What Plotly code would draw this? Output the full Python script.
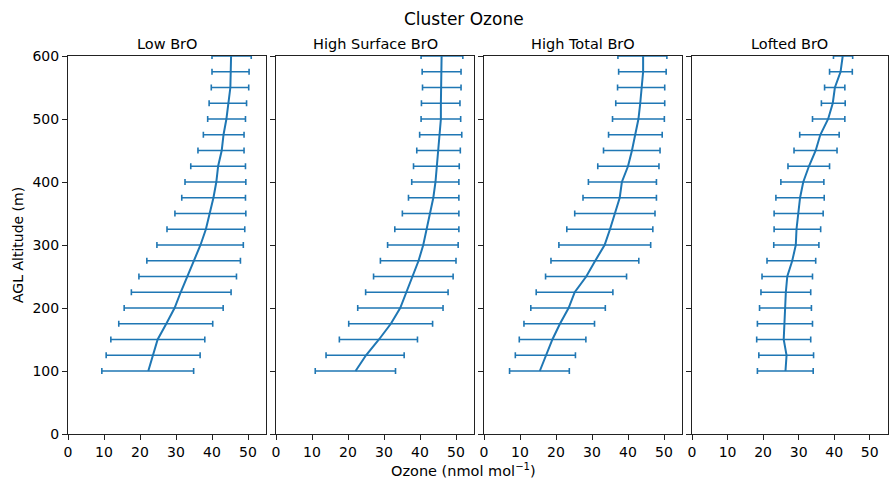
import numpy as np
import plotly.graph_objects as go

W, H = 889, 482

altitude = [100, 125, 150, 175, 200, 225, 250, 275, 300, 325, 350, 375, 400,
            425, 450, 475, 500, 525, 550, 575, 600]

titles = ["Low BrO", "High Surface BrO", "High Total BrO", "Lofted BrO"]

low_mean = [22.3, 23.6, 24.9, 27.3, 29.6, 31.3, 33.2, 34.9, 36.8, 38.3, 39.4, 40.4, 41.2,
            41.7, 42.7, 43.2, 44.0, 44.5, 45.1, 45.2, 45.3]
low_lo = [9.4, 10.6, 11.9, 14.1, 15.6, 17.6, 19.7, 21.9, 24.7, 27.5, 29.7, 31.6, 32.5,
          34.1, 36.1, 37.6, 38.8, 39.2, 39.8, 40.0, 40.0]
low_hi = [34.9, 36.7, 38.0, 40.2, 43.1, 45.3, 46.8, 47.9, 48.7, 49.1, 49.4, 49.3, 49.4,
          49.3, 48.9, 48.9, 49.3, 49.6, 50.2, 50.3, 50.9]

hs_mean = [22.1, 25.0, 28.6, 31.9, 34.5, 36.2, 38.1, 39.6, 40.9, 41.9, 42.9, 43.7, 44.3,
           44.7, 45.2, 45.5, 45.8, 45.8, 45.9, 45.9, 46.0]
hs_lo = [10.9, 13.9, 17.6, 20.2, 22.7, 24.9, 27.1, 29.0, 31.0, 33.0, 35.1, 36.8, 37.7,
         38.2, 39.1, 39.9, 40.3, 40.4, 40.7, 40.6, 40.3]
hs_hi = [33.2, 35.6, 39.3, 43.5, 46.4, 47.8, 49.2, 50.0, 50.6, 50.8, 50.8, 50.8, 50.8,
         50.9, 51.2, 51.6, 51.3, 51.1, 51.4, 51.4, 51.9]

ht_mean = [15.5, 17.2, 19.0, 21.1, 23.5, 25.2, 28.4, 30.9, 33.5, 35.0, 36.4, 37.7, 38.3,
           40.0, 41.1, 42.0, 42.9, 43.4, 43.7, 44.2, 44.2]
ht_lo = [7.1, 8.7, 9.8, 11.1, 13.0, 14.5, 17.1, 18.6, 20.8, 23.0, 25.2, 27.5, 29.0,
         31.6, 33.2, 34.6, 35.7, 36.6, 37.1, 37.4, 37.2]
ht_hi = [23.7, 25.4, 28.3, 30.7, 33.7, 35.8, 39.6, 43.0, 46.3, 46.9, 47.5, 47.9, 47.9,
         48.6, 48.9, 49.5, 50.1, 50.2, 50.2, 50.6, 50.8]

lf_mean = [26.3, 26.6, 25.8, 26.1, 26.2, 26.4, 26.8, 28.2, 29.2, 29.4, 29.8, 30.4, 31.3,
           32.9, 34.8, 36.1, 38.3, 39.6, 40.2, 41.8, 42.4]
lf_lo = [18.4, 18.8, 18.2, 18.4, 19.0, 19.4, 19.7, 21.1, 23.0, 23.1, 23.1, 23.6, 25.0,
         27.0, 28.7, 30.3, 33.9, 36.4, 37.3, 38.7, 39.8]
lf_hi = [34.1, 34.2, 33.4, 33.9, 33.6, 33.4, 33.9, 34.8, 35.7, 36.2, 36.9, 37.2, 37.1,
         38.7, 40.8, 41.4, 43.0, 43.1, 43.0, 45.1, 45.2]

x_ticks = [0, 10, 20, 30, 40, 50]
y_ticks = [0, 100, 200, 300, 400, 500, 600]

series = [(low_mean, low_lo, low_hi), (hs_mean, hs_lo, hs_hi),
          (ht_mean, ht_lo, ht_hi), (lf_mean, lf_lo, lf_hi)]

BLUE = "#1f77b4"
FONT = "DejaVu Sans"

px_left = [68, 276, 484, 692]
px_right = [266, 474, 682, 887.5]
y_top, y_bot = 56, 434

fig = go.Figure()
layout = dict(
    template="none",
    width=W, height=H, margin=dict(l=0, r=0, t=0, b=0, autoexpand=False),
    paper_bgcolor="white", plot_bgcolor="white", showlegend=False,
    font=dict(family=FONT, size=14, color="black"),
)
annotations = []
for i, (m, lo, hi) in enumerate(series):
    m = np.array(m); lo = np.array(lo); hi = np.array(hi)
    xa = "x" if i == 0 else f"x{i+1}"
    ya = "y" if i == 0 else f"y{i+1}"
    fig.add_trace(go.Scatter(
        x=m, y=altitude, mode="lines", xaxis=xa, yaxis=ya,
        line=dict(color=BLUE, width=2),
        error_x=dict(type="data", symmetric=False, array=hi - m, arrayminus=m - lo,
                     color=BLUE, thickness=1.6, width=3),
    ))
    xkey = "xaxis" if i == 0 else f"xaxis{i+1}"
    ykey = "yaxis" if i == 0 else f"yaxis{i+1}"
    layout[xkey] = dict(
        domain=[px_left[i] / W, px_right[i] / W], range=[0, 55], anchor=ya,
        tickvals=x_ticks, ticks="outside", ticklen=5, tickwidth=1, tickcolor="#222",
        showline=True, mirror=True, linecolor="#222", linewidth=1, automargin=False,
        showgrid=False, zeroline=False, tickfont=dict(size=14),
    )
    layout[ykey] = dict(
        domain=[1 - y_bot / H, 1 - y_top / H], range=[0, 600], anchor=xa,
        tickvals=y_ticks, ticks="outside", ticklen=5, tickwidth=1, tickcolor="#222",
        showline=True, mirror=True, linecolor="#222", linewidth=1, automargin=False,
        showgrid=False, zeroline=False, showticklabels=(i == 0), tickfont=dict(size=14),
    )
    annotations.append(dict(
        text=titles[i], x=(px_left[i] + px_right[i]) / 2 / W, y=1 - 44 / H,
        xref="paper", yref="paper", xanchor="center", yanchor="middle",
        showarrow=False, font=dict(size=14.5),
    ))

annotations.append(dict(text="Cluster Ozone", x=464 / W, y=1 - 19 / H, xref="paper",
                        yref="paper", xanchor="center", yanchor="middle",
                        showarrow=False, font=dict(size=17)))
annotations.append(dict(text="Ozone (nmol mol<sup>−1</sup>)", x=463 / W, y=1 - 470 / H,
                        xref="paper", yref="paper", xanchor="center", yanchor="middle",
                        showarrow=False, font=dict(size=14.5)))
annotations.append(dict(text="AGL Altitude (m)", x=18 / W, y=1 - 245 / H, xref="paper",
                        yref="paper", xanchor="center", yanchor="middle", textangle=-90,
                        showarrow=False, font=dict(size=14)))
layout["annotations"] = annotations
fig.update_layout(**layout)
fig.write_html("out.html")
